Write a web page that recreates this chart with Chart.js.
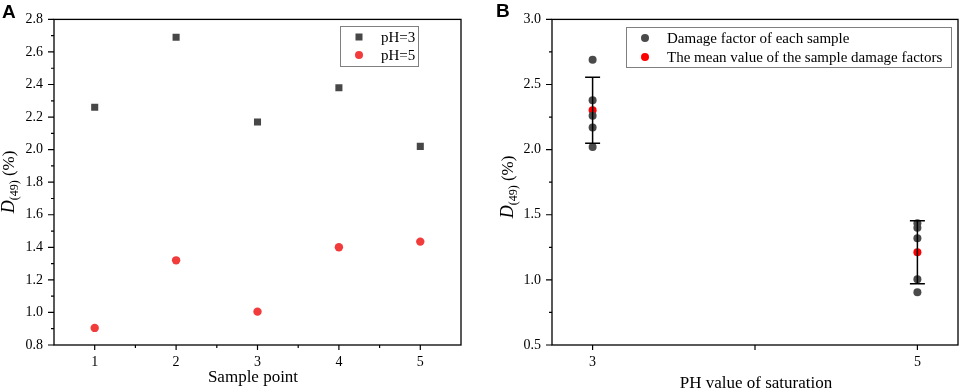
<!DOCTYPE html>
<html>
<head>
<meta charset="utf-8">
<script src="https://cdn.jsdelivr.net/npm/chart.js@4.4.0/dist/chart.umd.min.js"></script>
<style>
body { margin: 0; background: #fff; }
#wrap { position: relative; width: 962px; height: 390px; }
#chartA { position: absolute; left: 0; top: 0; }
#chartB { position: absolute; left: 480px; top: 0; }
</style>
</head>
<body>
<div id="wrap">
<canvas id="chartA" width="480" height="390"></canvas>
<canvas id="chartB" width="482" height="390"></canvas>
</div>
<script>
// panel A data
const samplePoints = [1, 2, 3, 4, 5];
const ph3Damage = [2.26, 2.69, 2.17, 2.38, 2.02];
const ph5Damage = [0.905, 1.32, 1.005, 1.40, 1.435];
const sampleTicks = [1, 2, 3, 4, 5];
const damageTicksA = [0.8, 1.0, 1.2, 1.4, 1.6, 1.8, 2.0, 2.2, 2.4, 2.6, 2.8];

// panel B data
const phLevels = [3, 5];
const meanDamage = [2.303, 1.212];
const sdDamage = [0.253, 0.242];
const phTicks = [3, 4, 5];
const phLabels = [3, 5];
const damageTicksB = [0.5, 1.0, 1.5, 2.0, 2.5, 3.0];

const serif = 'Liberation Serif';

function midpoints(arr) {
    var out = [];
    for (var i = 0; i < arr.length - 1; i++) out.push((arr[i] + arr[i + 1]) / 2);
    return out;
}

// frame, ticks, axis titles, panel letter, boxed legend
function decorations(o) {
    return {
        id: 'decorations',
        afterDraw: function (chart) {
            const ctx = chart.ctx, a = chart.chartArea, sx = chart.scales.x, sy = chart.scales.y;
            ctx.save();
            ctx.strokeStyle = '#000';
            ctx.lineWidth = 1.3;
            ctx.strokeRect(a.left, a.top, a.right - a.left, a.bottom - a.top);

            ctx.lineWidth = 1.2;
            ctx.beginPath();
            o.xMajor.forEach(function (v) {
                var p = sx.getPixelForValue(v);
                ctx.moveTo(p, a.bottom); ctx.lineTo(p, a.bottom + 5);
            });
            o.xMinor.forEach(function (v) {
                var p = sx.getPixelForValue(v);
                ctx.moveTo(p, a.bottom); ctx.lineTo(p, a.bottom + 3);
            });
            o.yMajor.forEach(function (v) {
                var p = sy.getPixelForValue(v);
                ctx.moveTo(a.left, p); ctx.lineTo(a.left - 6, p);
            });
            midpoints(o.yMajor).forEach(function (v) {
                var p = sy.getPixelForValue(v);
                ctx.moveTo(a.left, p); ctx.lineTo(a.left - 3, p);
            });
            ctx.stroke();

            // x title
            ctx.fillStyle = '#000';
            ctx.font = '17px "' + serif + '"';
            ctx.textAlign = 'center';
            ctx.textBaseline = 'alphabetic';
            ctx.fillText(o.xTitle, o.xTitlePos[0], o.xTitlePos[1]);

            // y title: D(49) (%)
            ctx.save();
            ctx.translate(o.yTitlePos[0], o.yTitlePos[1]);
            ctx.rotate(-Math.PI / 2);
            ctx.textAlign = 'left';
            var f1 = 'italic 18px "' + serif + '"', f2 = '12px "' + serif + '"', f3 = '17px "' + serif + '"';
            ctx.font = f1; var w1 = ctx.measureText('D').width;
            ctx.font = f2; var w2 = ctx.measureText('(49)').width;
            ctx.font = f3; var w3 = ctx.measureText(' (%)').width;
            var x0 = -(w1 + w2 + w3) / 2;
            ctx.font = f1; ctx.fillText('D', x0, 0);
            ctx.font = f2; ctx.fillText('(49)', x0 + w1, 4);
            ctx.font = f3; ctx.fillText(' (%)', x0 + w1 + w2, 0);
            ctx.restore();

            // panel letter
            ctx.font = 'bold 19px "Liberation Sans"';
            ctx.textAlign = 'left';
            ctx.fillText(o.letter, o.letterPos[0], o.letterPos[1]);

            // legend box
            var L = o.legend;
            ctx.strokeStyle = '#808080';
            ctx.lineWidth = 1;
            ctx.strokeRect(L.box[0] + 0.5, L.box[1] + 0.5, L.box[2] - L.box[0], L.box[3] - L.box[1]);
            ctx.font = '15px "' + serif + '"';
            ctx.textBaseline = 'middle';
            chart.data.datasets.forEach(function (ds, i) {
                var y = L.rows[i];
                ctx.fillStyle = ds.backgroundColor;
                if (ds.pointStyle === 'rect') {
                    ctx.fillRect(L.markerX - 3.5, y - 3.5, 7, 7);
                } else {
                    ctx.beginPath();
                    ctx.arc(L.markerX, y, 4, 0, Math.PI * 2);
                    ctx.fill();
                }
                ctx.fillStyle = '#000';
                ctx.fillText(ds.label, L.textX, y + 1);
            });
            ctx.restore();
        }
    };
}

// error bars for panel B, drawn over the sample points and under the mean
const errorBars = {
    id: 'errorBars',
    afterDatasetDraw: function (chart, args) {
        if (args.index !== 0) return;
        const ctx = chart.ctx, sx = chart.scales.x, sy = chart.scales.y;
        ctx.save();
        ctx.strokeStyle = '#000';
        ctx.lineWidth = 1.5;
        ctx.beginPath();
        phLevels.forEach(function (p, i) {
            var x = sx.getPixelForValue(p);
            var top = sy.getPixelForValue(meanDamage[i] + sdDamage[i]);
            var bot = sy.getPixelForValue(meanDamage[i] - sdDamage[i]);
            ctx.moveTo(x, top); ctx.lineTo(x, bot);
            ctx.moveTo(x - 7.5, top); ctx.lineTo(x + 7.5, top);
            ctx.moveTo(x - 7.5, bot); ctx.lineTo(x + 7.5, bot);
        });
        ctx.stroke();
        ctx.restore();
    }
};

function tickFont() {
    return { family: serif, size: 14 };
}

new Chart(document.getElementById('chartA'), {
    type: 'scatter',
    data: {
        datasets: [{
            label: 'pH=3',
            data: samplePoints.map(function (s, i) { return { x: s, y: ph3Damage[i] }; }),
            pointStyle: 'rect',
            pointRadius: 5,
            backgroundColor: '#474747',
            borderWidth: 0
        }, {
            label: 'pH=5',
            data: samplePoints.map(function (s, i) { return { x: s, y: ph5Damage[i] }; }),
            pointStyle: 'circle',
            pointRadius: 4.2,
            backgroundColor: '#f23b3b',
            borderWidth: 0
        }]
    },
    options: {
        responsive: false,
        animation: false,
        layout: { padding: { top: 17, right: 19, left: 0, bottom: 0 } },
        plugins: { legend: { display: false }, tooltip: { enabled: false } },
        scales: {
            x: {
                type: 'linear', min: 0.5, max: 5.5,
                afterBuildTicks: function (s) { s.ticks = sampleTicks.map(function (v) { return { value: v }; }); },
                afterFit: function (s) { s.height = 45; },
                grid: { display: false, drawTicks: false }, border: { display: false },
                ticks: { font: tickFont(), color: '#000', padding: 9, maxRotation: 0 }
            },
            y: {
                min: 0.8, max: 2.8,
                afterBuildTicks: function (s) { s.ticks = damageTicksA.map(function (v) { return { value: v }; }); },
                afterFit: function (s) { s.width = 54; },
                grid: { display: false, drawTicks: false }, border: { display: false },
                ticks: { font: tickFont(), color: '#000', padding: 11, callback: function (v) { return v.toFixed(1); } }
            }
        }
    },
    plugins: [decorations({
        xMajor: sampleTicks, xMinor: midpoints(sampleTicks),
        yMajor: damageTicksA,
        xTitle: 'Sample point', xTitlePos: [253, 382],
        yTitlePos: [14, 182],
        letter: 'A', letterPos: [2, 18],
        legend: { box: [340, 26, 418, 66], rows: [37, 55], markerX: 359, textX: 381 }
    })]
});

new Chart(document.getElementById('chartB'), {
    type: 'scatter',
    data: {
        datasets: [{
            label: 'Damage factor of each sample',
            data: ph3Damage.map(function (v) { return { x: phLevels[0], y: v }; })
                .concat(ph5Damage.map(function (v) { return { x: phLevels[1], y: v }; })),
            pointStyle: 'circle',
            pointRadius: 4,
            backgroundColor: '#4a4a4a',
            borderWidth: 0
        }, {
            label: 'The mean value of the sample damage factors',
            data: phLevels.map(function (p, i) { return { x: p, y: meanDamage[i] }; }),
            pointStyle: 'circle',
            pointRadius: 4,
            backgroundColor: '#ff0000',
            borderWidth: 0
        }]
    },
    options: {
        responsive: false,
        animation: false,
        layout: { padding: { top: 17, right: 3, left: 0, bottom: 0 } },
        plugins: { legend: { display: false }, tooltip: { enabled: false } },
        scales: {
            x: {
                type: 'linear', min: 2.75, max: 5.25,
                afterBuildTicks: function (s) { s.ticks = phLabels.map(function (v) { return { value: v }; }); },
                afterFit: function (s) { s.height = 45; },
                grid: { display: false, drawTicks: false }, border: { display: false },
                ticks: { font: tickFont(), color: '#000', padding: 9, maxRotation: 0 }
            },
            y: {
                min: 0.5, max: 3.0,
                afterBuildTicks: function (s) { s.ticks = damageTicksB.map(function (v) { return { value: v }; }); },
                afterFit: function (s) { s.width = 72; },
                grid: { display: false, drawTicks: false }, border: { display: false },
                ticks: { font: tickFont(), color: '#000', padding: 11, callback: function (v) { return v.toFixed(1); } }
            }
        }
    },
    plugins: [errorBars, decorations({
        xMajor: phTicks, xMinor: [],
        yMajor: damageTicksB,
        xTitle: 'PH value of saturation', xTitlePos: [276, 388],
        yTitlePos: [33, 187],
        letter: 'B', letterPos: [16, 17],
        legend: { box: [146, 27, 471, 67], rows: [38, 57], markerX: 165, textX: 187 }
    })]
});
</script>
</body>
</html>
